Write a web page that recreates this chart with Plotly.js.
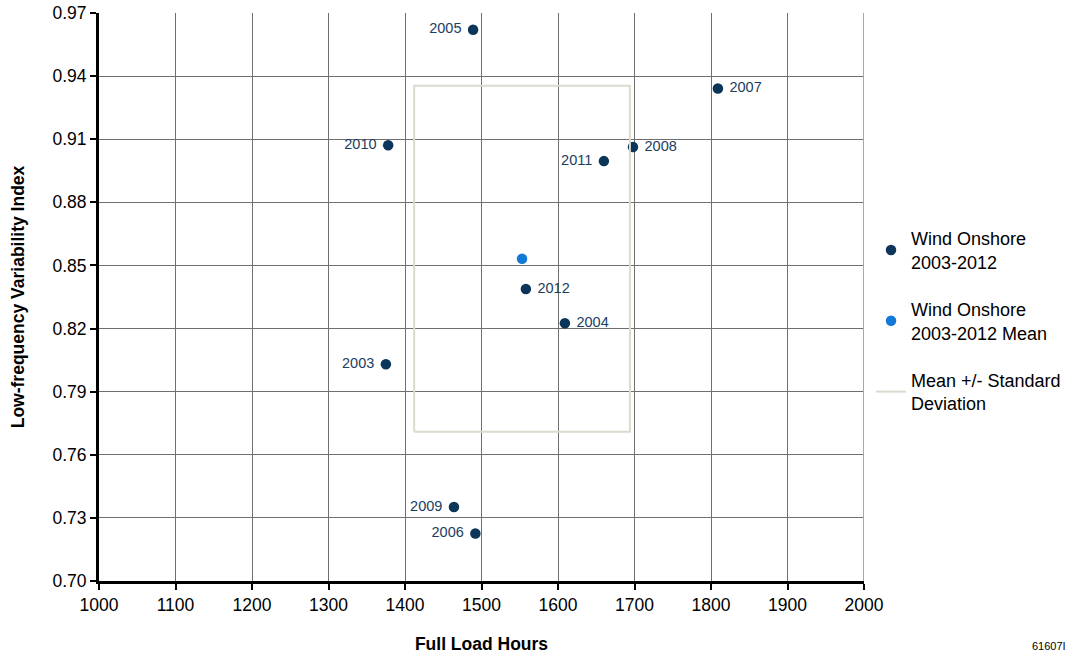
<!DOCTYPE html>
<html>
<head>
<meta charset="utf-8">
<script src="https://cdn.plot.ly/plotly-3.0.1.min.js"></script>
<style>
  html, body { margin: 0; padding: 0; background: #ffffff; }
  #chart { width: 1069px; height: 659px; }
</style>
</head>
<body>
<div id="chart"></div>
<script>
// Yearly onshore wind: full load hours vs. low-frequency variability index
const years = ['2003', '2004', '2005', '2006', '2007', '2008', '2009', '2010', '2011', '2012'];
const fullLoadHours = [1375, 1609, 1489, 1492, 1809, 1698, 1464, 1378, 1660, 1558];
const variabilityIndex = [0.803, 0.8225, 0.962, 0.7226, 0.9341, 0.9063, 0.7352, 0.9071, 0.8996, 0.8388];
const labelSide = ['middle left', 'middle right', 'middle left', 'middle left', 'middle right',
                   'middle right', 'middle left', 'middle left', 'middle left', 'middle right'];

// Mean of the ten years
const meanHours = [1553];
const meanIndex = [0.8532];

// Mean +/- one standard deviation box (closed outline)
const bandHours = [1412, 1694, 1694, 1412, 1412];
const bandIndex = [0.7709, 0.7709, 0.9354, 0.9354, 0.7709];

const xTicks = [1000, 1100, 1200, 1300, 1400, 1500, 1600, 1700, 1800, 1900, 2000];
const yTicks = [0.70, 0.73, 0.76, 0.79, 0.82, 0.85, 0.88, 0.91, 0.94, 0.97];

const navy = '#0b3559';
const labelColor = '#1b3d62';
const font = 'Arial, "Liberation Sans", sans-serif';

// pad year labels a little away from their markers
const nb = '\u00a0';
const yearLabels = years.map((y, i) => labelSide[i] === 'middle left' ? y + nb : nb + y);

const traces = [
  {
    type: 'scatter', mode: 'markers+text',
    x: fullLoadHours, y: variabilityIndex,
    text: yearLabels, textposition: labelSide,
    textfont: { family: font, size: 14.5, color: labelColor },
    marker: { color: navy, size: 10.5 },
    name: 'Wind Onshore<br>2003-2012',
    legendgroup: 'a', cliponaxis: false, hoverinfo: 'x+y+text'
  },
  {
    type: 'scatter', mode: 'markers',
    x: meanHours, y: meanIndex,
    marker: { color: '#1479d6', size: 10.5 },
    name: 'Wind Onshore<br>2003-2012 Mean',
    legendgroup: 'b', cliponaxis: false
  },
  {
    type: 'scatter', mode: 'lines',
    x: bandHours, y: bandIndex,
    line: { color: '#dcd9ce', width: 2 },
    name: 'Mean +/- Standard<br>Deviation',
    legendgroup: 'c', hoverinfo: 'skip'
  }
];

const layout = {
  width: 1069, height: 659,
  margin: { l: 99, r: 205, t: 13, b: 78 },
  paper_bgcolor: '#ffffff', plot_bgcolor: '#ffffff',
  font: { family: font, color: '#000000' },
  showlegend: true,
  legend: {
    xref: 'container', yref: 'container',
    x: 0.8148, xanchor: 'left', y: 0.666, yanchor: 'top',
    font: { family: font, size: 18, color: '#000000' },
    tracegroupgap: 21, traceorder: 'grouped',
    bgcolor: 'rgba(0,0,0,0)'
  },
  xaxis: {
    range: [1000, 2000], tickvals: xTicks, ticktext: xTicks.map(String),
    showgrid: true, gridcolor: '#6f6f6f', gridwidth: 1,
    showline: true, linecolor: '#000000', linewidth: 3,
    ticks: 'outside', ticklen: 6, tickwidth: 2, tickcolor: '#000000',
    tickfont: { family: font, size: 17.5, color: '#000000' },
    zeroline: false,
    title: { text: '<b>Full Load Hours</b>', font: { family: font, size: 17.5, color: '#000000' }, standoff: 24 }
  },
  yaxis: {
    range: [0.70, 0.97], tickvals: yTicks, ticktext: yTicks.map(v => v.toFixed(2)),
    showgrid: true, gridcolor: '#6f6f6f', gridwidth: 1,
    showline: true, linecolor: '#000000', linewidth: 3,
    ticks: 'outside', ticklen: 6, tickwidth: 2, tickcolor: '#000000',
    tickfont: { family: font, size: 17.5, color: '#000000' },
    zeroline: false,
    title: { text: '<b>Low-frequency Variability Index</b>', font: { family: font, size: 17.5, color: '#000000' }, standoff: 24 }
  },
  shapes: [
    { type: 'line', xref: 'x', yref: 'paper', x0: 2000, x1: 2000, y0: 0, y1: 1,
      line: { color: '#a8a8a8', width: 2 } }
  ],
  annotations: [
    { xref: 'paper', yref: 'paper', x: 1.2667, y: -0.115, xanchor: 'right', yanchor: 'middle',
      text: '61607I', showarrow: false, font: { family: font, size: 11, color: '#000000' } }
  ]
};

Plotly.newPlot('chart', traces, layout, { displayModeBar: false, staticPlot: true });
</script>
</body>
</html>
